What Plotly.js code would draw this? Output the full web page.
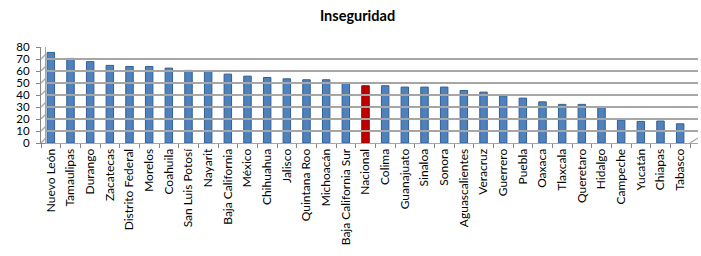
<!DOCTYPE html>
<html><head><meta charset="utf-8">
<script src="https://cdn.plot.ly/plotly-3.0.1.min.js"></script>
<style>html,body{margin:0;padding:0;background:#fff;}#chart{width:701px;height:256px;}</style>
</head><body><div id="chart"></div>
<script>
const estados = ["Nuevo León","Tamaulipas","Durango","Zacatecas","Distrito Federal","Morelos","Coahuila","San Luis Potosí","Nayarit","Baja California","México","Chihuahua","Jalisco","Quintana Roo","Michoacán","Baja California Sur","Nacional","Colima","Guanajuato","Sinaloa","Sonora","Aguascalientes","Veracruz","Guerrero","Puebla","Oaxaca","Tlaxcala","Queretaro","Hidalgo","Campeche","Yucatán","Chiapas","Tabasco"];
const inseguridad = [75.5,70.5,67.8,64.7,63.8,63.8,62.4,60.5,59.6,57.4,55.7,54.6,53.5,52.7,52.7,49.7,47.7,47.7,46.6,46.6,46.6,43.8,42.4,39.3,37.4,34.3,32.2,32.2,30.2,19.1,18.0,18.3,16.0];
const yTicks = [0,10,20,30,40,50,60,70,80];

// 3D-look geometry (pixels)
const W = 701, H = 256;
const M = {l: 41, r: 3, t: 42, b: 113};
const PW = W - M.l - M.r, PH = H - M.t - M.b;
const depth = 5;       // back wall offset (px)
const frontW = 649;    // width of the front floor edge
const frontH = 96;     // height of the front value scale

const font = "Lato, 'Liberation Sans', sans-serif";
const colors = estados.map(e => e === "Nacional" ? "#C00000" : "#4F81BD");
const lineColors = estados.map(e => e === "Nacional" ? "#8C0000" : "#335E91");

const bars = {
  type: "bar", x: estados, y: inseguridad, xaxis: "x3", yaxis: "y3",
  marker: {color: colors, line: {color: lineColors, width: 1}},
  width: 0.38, hoverinfo: "x+y"
};

// side-wall connectors from front tick to back gridline, per tick value
const shapes = yTicks.map(v => ({
  type: "line", xref: "paper", yref: "y",
  x0: 0, y0: v, x1: depth / PW, y1: v + depth / frontH * 80,
  line: {color: "#A6A6A6", width: 1.2}
}));
// right end of the floor
shapes.push({type: "line", xref: "paper", yref: "paper",
  x0: frontW / PW, y0: 0, x1: 1, y1: depth / PH,
  line: {color: "#A6A6A6", width: 1.2}});

const axisBase = {showgrid: false, zeroline: false, fixedrange: true};

const layout = {
  width: W, height: H, margin: M,
  paper_bgcolor: "#fff", plot_bgcolor: "rgba(0,0,0,0)",
  title: {text: "<b>Inseguridad</b>", x: 0.51, xanchor: "center", y: 0.938, yanchor: "middle",
          font: {family: font, size: 14.5, color: "#000"}},
  showlegend: false,
  // front floor edge with category labels
  xaxis: Object.assign({}, axisBase, {
    type: "category", domain: [0, frontW / PW], anchor: "y",
    categoryorder: "array", categoryarray: estados, range: [-0.5, estados.length - 0.5],
    tickangle: -90, ticks: "outside", tickson: "boundaries", ticklen: 4,
    tickcolor: "#868686", showline: true, linecolor: "#868686", linewidth: 1,
    tickfont: {family: font, size: 12, color: "#000"}
  }),
  // front value axis with labels
  yaxis: Object.assign({}, axisBase, {
    domain: [0, frontH / PH], anchor: "x", range: [0, 80],
    tickvals: yTicks, ticktext: yTicks.map(String),
    ticks: "outside", ticklen: 4, tickcolor: "#868686", ticklabelstandoff: 4,
    showline: true, linecolor: "#868686", linewidth: 1,
    tickfont: {family: font, size: 11.5, color: "#000"}
  }),
  // back wall: gridlines
  xaxis2: Object.assign({}, axisBase, {
    domain: [depth / PW, 1], anchor: "y2", range: [0, 1],
    showticklabels: false, showline: true, linecolor: "#A6A6A6", linewidth: 1.2
  }),
  yaxis2: Object.assign({}, axisBase, {
    domain: [depth / PH, 1], anchor: "x2", range: [0, 80], overlaying: "y",
    tickvals: yTicks, showticklabels: false, showgrid: true,
    gridcolor: "#A6A6A6", gridwidth: 1.2, showline: true, linecolor: "#A6A6A6", linewidth: 1.2
  }),
  // bars in the middle depth
  xaxis3: Object.assign({}, axisBase, {
    type: "category", domain: [depth / 2 / PW, (frontW + depth / 2) / PW], anchor: "y3",
    categoryorder: "array", categoryarray: estados, range: [-0.5, estados.length - 0.5],
    showticklabels: false, overlaying: "x"
  }),
  yaxis3: Object.assign({}, axisBase, {
    domain: [depth / 2 / PH, (frontH + depth / 2) / PH], anchor: "x3", range: [0, 80],
    showticklabels: false, overlaying: "y"
  }),
  shapes: shapes
};

const gridDummy = {type: "scatter", x: [0], y: [0], xaxis: "x2", yaxis: "y2",
  mode: "markers", marker: {opacity: 0}, hoverinfo: "skip"};
const frontDummy = {type: "scatter", x: estados, y: estados.map(() => 0), xaxis: "x", yaxis: "y",
  mode: "markers", marker: {opacity: 0}, hoverinfo: "skip"};

Plotly.newPlot("chart", [gridDummy, frontDummy, bars], layout, {displayModeBar: false, staticPlot: true});
</script>
</body></html>
